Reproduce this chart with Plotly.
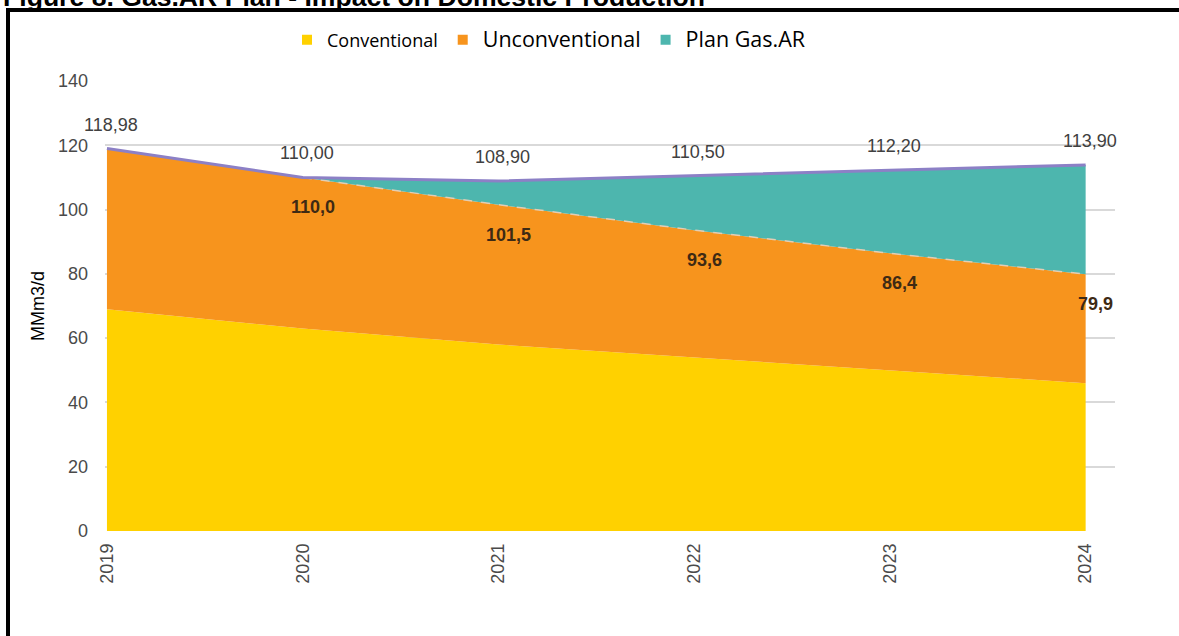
import plotly.graph_objects as go

# ---- data ----
years = [2019, 2020, 2021, 2022, 2023, 2024]
conventional = [69.0, 63.0, 58.0, 54.0, 50.0, 46.0]
unconventional = [49.98, 47.0, 43.5, 39.6, 36.4, 33.9]
plan_gas_ar = [0.0, 0.0, 7.4, 16.9, 25.8, 34.0]
total_with_plan = [118.98, 110.00, 108.90, 110.50, 112.20, 113.90]
total_without_plan = [118.98, 110.0, 101.5, 93.6, 86.4, 79.9]
y_ticks = [0, 20, 40, 60, 80, 100, 120, 140]

YELLOW = "#FFD100"
ORANGE = "#F7941D"
TEAL = "#4DB6AE"
PURPLE = "#8C80C6"

W, H = 1179, 636
L, R, T, B = 105, 64, 81, 105
PW, PH = W - L - R, H - T - B


def px(x):
    return (x - L) / PW


def py(y):
    return (H - B - y) / PH


fig = go.Figure()

fig.add_trace(go.Scatter(x=years, y=conventional, stackgroup="s", mode="lines",
                         line=dict(width=0, color=YELLOW), fillcolor=YELLOW,
                         showlegend=False, hoverinfo="skip"))
fig.add_trace(go.Scatter(x=years, y=unconventional, stackgroup="s", mode="lines",
                         line=dict(width=0, color=ORANGE), fillcolor=ORANGE,
                         showlegend=False, hoverinfo="skip"))
fig.add_trace(go.Scatter(x=years, y=plan_gas_ar, stackgroup="s", mode="lines",
                         line=dict(width=0, color=TEAL), fillcolor=TEAL,
                         showlegend=False, hoverinfo="skip"))

# boundary dashed line and top line
fig.add_trace(go.Scatter(x=years, y=total_without_plan, mode="lines",
                         line=dict(width=1.5, color="#E3CDB4", dash="dash"),
                         showlegend=False, hoverinfo="skip"))
fig.add_trace(go.Scatter(x=years, y=total_with_plan, mode="lines",
                         line=dict(width=3, color=PURPLE),
                         showlegend=False, hoverinfo="skip"))

# legend-only entries (small squares)
legend_items = [
    ("<span style='font-size:18px'>Conventional</span>", YELLOW),
    ("<span style='font-size:21.5px'>Unconventional</span>", ORANGE),
    ("<span style='font-size:21.5px'>Plan Gas.AR</span>", TEAL),
]
for name, col in legend_items:
    fig.add_trace(go.Scatter(x=[None], y=[None], mode="markers", name=name,
                             marker=dict(symbol="square", size=10, color=col)))

# value labels
annotations = []
for x, v in zip(years, total_with_plan):
    annotations.append(dict(x=x, y=v, xref="x", yref="y", showarrow=False,
                            text=f"{v:.2f}".replace(".", ","), yshift=24, xshift=4,
                            font=dict(family="Liberation Sans", size=18, color="#404040")))
for x, v in list(zip(years, total_without_plan))[1:]:
    annotations.append(dict(x=x, y=v, xref="x", yref="y", showarrow=False,
                            text=f"<b>{v:.1f}</b>".replace(".", ","), yshift=-30, xshift=10,
                            font=dict(family="Liberation Sans", size=18, color="#3E2A14")))

# title (cut at the top edge)
annotations.append(dict(x=px(1), y=py(-3), xref="paper", yref="paper", xanchor="left",
                        yanchor="middle", showarrow=False,
                        text="<b>Figure 8. Gas.AR Plan - Impact on Domestic Production</b>",
                        font=dict(family="Liberation Sans", size=26.6, color="#000000")))

shapes = [
    dict(type="line", xref="paper", yref="paper", x0=px(8), x1=px(1190),
         y0=py(10), y1=py(10), line=dict(color="#000000", width=4)),
    dict(type="line", xref="paper", yref="paper", x0=px(8), x1=px(8),
         y0=py(8), y1=py(645), line=dict(color="#000000", width=4)),
]

fig.update_layout(
    width=W, height=H,
    margin=dict(l=L, r=R, t=T, b=B, autoexpand=False),
    paper_bgcolor="white", plot_bgcolor="white",
    font=dict(family="Liberation Sans", color="#555555"),
    showlegend=True,
    legend=dict(orientation="h", x=px(287), y=py(40), xanchor="left", yanchor="middle",
                traceorder="normal",
                font=dict(family="Open Sans", size=18, color="#000000"),
                bgcolor="rgba(0,0,0,0)", itemclick=False, tracegroupgap=0),
    annotations=annotations,
    shapes=shapes,
    xaxis=dict(range=[2018.99, 2024.15], tickmode="array", tickvals=years,
               ticktext=[str(y) for y in years], tickangle=-90, showgrid=False,
               zeroline=False, showline=False, ticks="", ticklabelstandoff=8,
               tickfont=dict(family="Liberation Sans", size=18, color="#4A4A4A")),
    yaxis=dict(range=[0, 140], tickmode="array", tickvals=y_ticks,
               showgrid=True, gridcolor="#D9D9D9", gridwidth=2, zeroline=False,
               showline=False, ticks="", ticklabelstandoff=16,
               tickfont=dict(family="Liberation Sans", size=18, color="#4A4A4A"),
               title=dict(text="MMm3/d", standoff=8,
                          font=dict(family="Liberation Sans", size=18, color="#000000"))),
)

fig.write_html("out.html", config={"displayModeBar": False},
               post_script="document.body.style.margin='0';document.body.style.overflow='hidden';")
